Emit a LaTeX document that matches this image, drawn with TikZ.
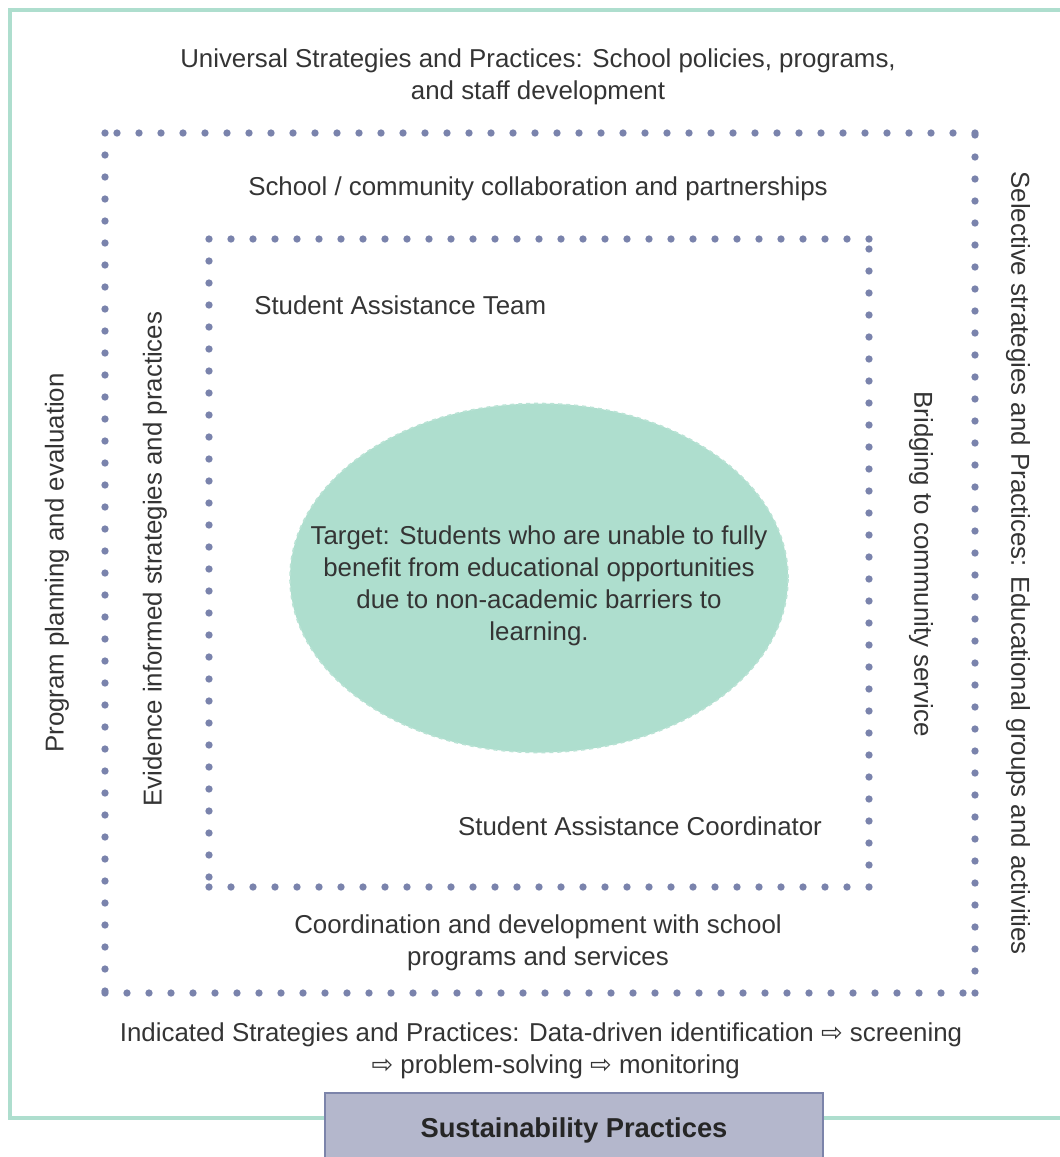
\documentclass[tikz,border=0pt]{standalone}
\usepackage{fontspec}
\setmainfont{Liberation Sans}
\newfontfamily\arrowfont{DejaVu Sans}
\usetikzlibrary{positioning, shapes.geometric}

\definecolor{mint}{RGB}{174,222,206}
\definecolor{dotblue}{RGB}{122,131,172}
\definecolor{lavender}{RGB}{180,183,204}
\definecolor{lavenderdark}{RGB}{124,132,170}
\definecolor{inkgray}{RGB}{52,52,52}

\newcommand{\nextstep}{{\arrowfont ⇨}}

\begin{document}
\begin{tikzpicture}[x=0.75pt, y=-0.75pt,
    label/.style={text=inkgray, font=\fontsize{19.4}{24}\selectfont, align=center, inner sep=0pt},
    dotline/.style={draw=dotblue, line width=5.5pt, line cap=round, dash pattern=on 0pt off 16.5pt},
    frame/.style={draw=mint, line width=3.2pt},
    target/.style={ellipse, fill=mint, draw=mint!85, dashed, line width=1.2pt, minimum width=373.5pt, minimum height=261.75pt, inner sep=0pt},
    footer/.style={rectangle, fill=lavender, draw=lavenderdark, line width=1.3pt}]

    \clip (0,0) rectangle (1060,1157);

    % outer frame and footer tab
    \draw[frame] (10,10) rectangle (1070,1118);
    \draw[footer] (325,1093) rectangle (823,1170);
    \node (sustain) [label, font=\fontsize{20.5}{24}\selectfont\bfseries, text=black!85] at (574,1130) {Sustainability Practices};

    % dotted rings, one side at a time
    \foreach \ax/\ay/\bx/\by in {975/133/105/133, 105/133/105/993, 105/993/975/993, 975/993/975/133,
                                 869/239/209/239, 209/239/209/887, 209/887/869/887, 869/887/869/239}
        \draw[dotline] (\ax,\ay) -- (\bx,\by);

    \node (target) [target] at (539,578) {};
    \node (targettext) [label] at (539,586) {Target: Students who are unable to fully\\benefit from educational opportunities\\due to non-academic barriers to\\learning.};

    \node (universal) [label] at (538,77) {Universal Strategies and Practices: School policies, programs,\\and staff development};
    \node (community) [label] at (538,189) {School / community collaboration and partnerships};
    \node (team) [label, anchor=west] at (254,305) {Student Assistance Team};
    \node (coordinator) [label] at (640,826) {Student Assistance Coordinator};
    \node (coordination) [label] at (538,943) {Coordination and development with school\\programs and services};
    \node (indicated) [label] at (541,1051) {Indicated Strategies and Practices: Data-driven identification \nextstep{} screening\\\hspace*{22pt}\nextstep{} problem-solving \nextstep{} monitoring};

    \node (planning) [label, rotate=90] at (57,563) {Program planning and evaluation};
    \node (evidence) [label, rotate=90] at (155,559) {Evidence informed strategies and practices};
    \node (bridging) [label, rotate=-90] at (921,564) {Bridging to community service};
    \node (selective) [label, rotate=-90] at (1018,563) {Selective strategies and Practices: Educational groups and activities};
\end{tikzpicture}
\end{document}
